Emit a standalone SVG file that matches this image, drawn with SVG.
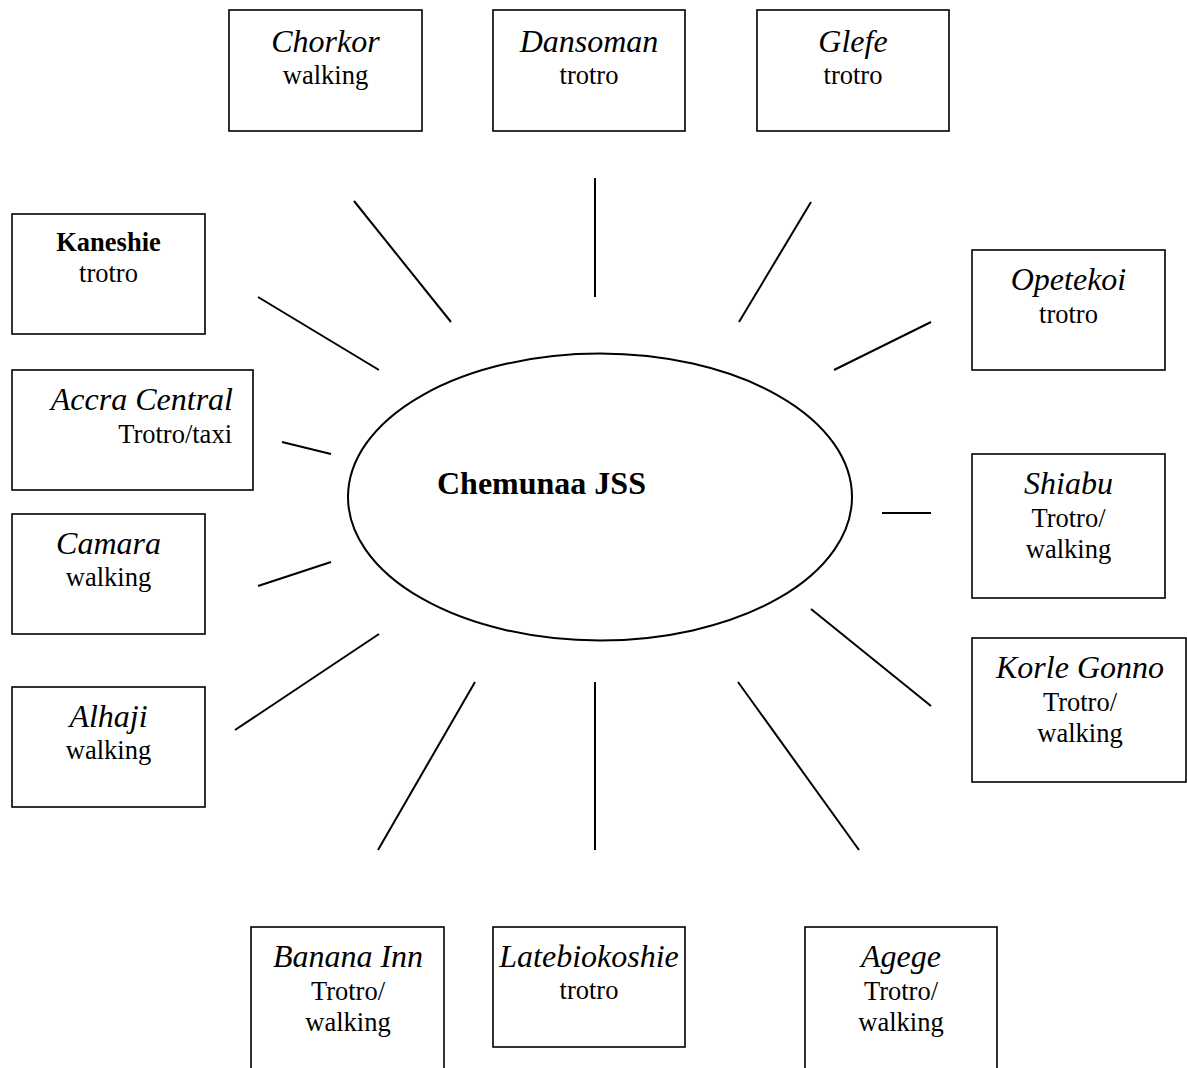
<svg xmlns="http://www.w3.org/2000/svg" width="1187" height="1068" viewBox="0 0 1187 1068">
<style>
.box{fill:#fff;stroke:#000;stroke-width:1.6}
.lnk{stroke:#000;stroke-width:2;fill:none}
text{font-family:"Liberation Serif","Times New Roman",serif;fill:#000;text-anchor:middle}
.nm{font-size:32px;font-style:italic}
.sb{font-size:26.5px}
.bd{font-size:26.5px;font-weight:bold}
.ctr{font-size:32px;font-weight:bold;text-anchor:start}
</style>
<rect width="1187" height="1068" fill="#fff"/>
<g id="connectors">
<line class="lnk" x1="354" y1="201" x2="451" y2="322"/>
<line class="lnk" x1="595" y1="178" x2="595" y2="297"/>
<line class="lnk" x1="811" y1="202" x2="739" y2="322"/>
<line class="lnk" x1="258" y1="297" x2="379" y2="370"/>
<line class="lnk" x1="931" y1="322" x2="834" y2="370"/>
<line class="lnk" x1="282" y1="442" x2="331" y2="454"/>
<line class="lnk" x1="882" y1="513" x2="931" y2="513"/>
<line class="lnk" x1="258" y1="586" x2="331" y2="562"/>
<line class="lnk" x1="235" y1="730" x2="379" y2="634"/>
<line class="lnk" x1="811" y1="609" x2="931" y2="706"/>
<line class="lnk" x1="475" y1="682" x2="378" y2="850"/>
<line class="lnk" x1="595" y1="682" x2="595" y2="850"/>
<line class="lnk" x1="738" y1="682" x2="859" y2="850"/>
</g>
<g id="center">
<ellipse cx="600" cy="497" rx="252" ry="143.5" fill="#fff" stroke="#000" stroke-width="2"/>
<text class="ctr" x="437" y="494">Chemunaa JSS</text>
</g>
<g id="chorkor">
<rect class="box" x="229" y="10" width="193" height="121"/>
<text class="nm" x="325.5" y="52">Chorkor</text>
<text class="sb" x="325.5" y="84">walking</text>
</g>
<g id="dansoman">
<rect class="box" x="493" y="10" width="192" height="121"/>
<text class="nm" x="589" y="52">Dansoman</text>
<text class="sb" x="589" y="84">trotro</text>
</g>
<g id="glefe">
<rect class="box" x="757" y="10" width="192" height="121"/>
<text class="nm" x="853" y="52">Glefe</text>
<text class="sb" x="853" y="84">trotro</text>
</g>
<g id="kaneshie">
<rect class="box" x="12" y="214" width="193" height="120"/>
<text class="bd" x="108.5" y="251">Kaneshie</text>
<text class="sb" x="108.5" y="282">trotro</text>
</g>
<g id="accra-central">
<rect class="box" x="12" y="370" width="241" height="120"/>
<text class="nm" x="233" y="410" style="text-anchor:end">Accra Central</text>
<text class="sb" x="232" y="443" style="text-anchor:end">Trotro/taxi</text>
</g>
<g id="camara">
<rect class="box" x="12" y="514" width="193" height="120"/>
<text class="nm" x="108.5" y="554">Camara</text>
<text class="sb" x="108.5" y="586">walking</text>
</g>
<g id="alhaji">
<rect class="box" x="12" y="687" width="193" height="120"/>
<text class="nm" x="108.5" y="727">Alhaji</text>
<text class="sb" x="108.5" y="759">walking</text>
</g>
<g id="opetekoi">
<rect class="box" x="972" y="250" width="193" height="120"/>
<text class="nm" x="1068.5" y="290">Opetekoi</text>
<text class="sb" x="1068.5" y="323">trotro</text>
</g>
<g id="shiabu">
<rect class="box" x="972" y="454" width="193" height="144"/>
<text class="nm" x="1068.5" y="494">Shiabu</text>
<text class="sb" x="1068.5" y="527">Trotro/</text>
<text class="sb" x="1068.5" y="558">walking</text>
</g>
<g id="korle-gonno">
<rect class="box" x="972" y="638" width="214" height="144"/>
<text class="nm" x="1080" y="678">Korle Gonno</text>
<text class="sb" x="1080" y="711">Trotro/</text>
<text class="sb" x="1080" y="742">walking</text>
</g>
<g id="banana-inn">
<rect class="box" x="251" y="927" width="193" height="150"/>
<text class="nm" x="348" y="967">Banana Inn</text>
<text class="sb" x="348" y="1000">Trotro/</text>
<text class="sb" x="348" y="1031">walking</text>
</g>
<g id="latebiokoshie">
<rect class="box" x="493" y="927" width="192" height="120"/>
<text class="nm" x="589" y="967">Latebiokoshie</text>
<text class="sb" x="589" y="999">trotro</text>
</g>
<g id="agege">
<rect class="box" x="805" y="927" width="192" height="150"/>
<text class="nm" x="901" y="967">Agege</text>
<text class="sb" x="901" y="1000">Trotro/</text>
<text class="sb" x="901" y="1031">walking</text>
</g>
</svg>
